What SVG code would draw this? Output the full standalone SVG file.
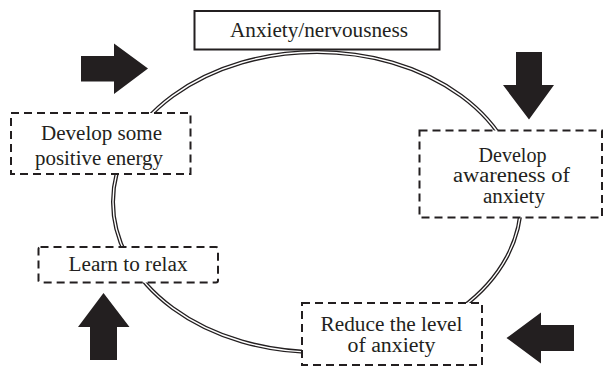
<svg xmlns="http://www.w3.org/2000/svg" width="604" height="367" viewBox="0 0 604 367">
  <style>
    .lbl { font-size: 20px; fill: #231f20; text-anchor: middle; }
    .dash { fill: #ffffff; stroke: #231f20; stroke-width: 2; stroke-dasharray: 8 5; }
    .solid { fill: #ffffff; stroke: #231f20; stroke-width: 2; }
    .arrow { fill: #231f20; }
  </style>
  <rect width="604" height="367" fill="#ffffff"/>

  <!-- cycle: double-lined ellipse -->
  <g id="connectors">
    <ellipse cx="317" cy="202" rx="204" ry="150" fill="none" stroke="#231f20" stroke-width="4"/>
    <ellipse cx="317" cy="202" rx="204" ry="150" fill="none" stroke="#ffffff" stroke-width="1.4"/>
  </g>

  <!-- block arrows -->
  <g id="arrows">
    <polygon class="arrow" points="81,56 114,56 114,43.5 148,68.5 114,94 114,81.5 81,81.5"/>
    <polygon class="arrow" points="516,52 542,52 542,85 554,85 529,119.5 503,85 516,85"/>
    <polygon class="arrow" points="103.5,293 129.5,327 117,327 117,360 90,360 90,327 78,327"/>
    <polygon class="arrow" points="506.5,338 541,312.5 541,325 574,325 574,351 541,351 541,363.5"/>
  </g>

  <g font-family="Liberation Serif, Times New Roman, DejaVu Serif, serif">
    <g id="anxiety">
      <rect class="solid" x="194.5" y="11" width="245" height="38.5"/>
      <text class="lbl" x="319" y="36.5" textLength="178" lengthAdjust="spacingAndGlyphs">Anxiety/nervousness</text>
    </g>

    <g id="awareness">
      <rect class="dash" x="419.5" y="130.5" width="182.5" height="87"/>
      <text class="lbl" x="512.5" y="161.5" textLength="68" lengthAdjust="spacingAndGlyphs">Develop</text>
      <text class="lbl" x="511.5" y="182" textLength="117" lengthAdjust="spacingAndGlyphs">awareness of</text>
      <text class="lbl" x="514" y="202.5" textLength="62" lengthAdjust="spacingAndGlyphs">anxiety</text>
    </g>

    <g id="reduce">
      <rect class="dash" x="302" y="303" width="180" height="62"/>
      <text class="lbl" x="391.5" y="331" textLength="142" lengthAdjust="spacingAndGlyphs">Reduce the level</text>
      <text class="lbl" x="391.5" y="352" textLength="88" lengthAdjust="spacingAndGlyphs">of anxiety</text>
    </g>

    <g id="relax">
      <rect class="dash" x="38.5" y="247" width="179.5" height="35.5" rx="2"/>
      <text class="lbl" x="128" y="271" textLength="119" lengthAdjust="spacingAndGlyphs">Learn to relax</text>
    </g>

    <g id="energy">
      <rect class="dash" x="11" y="113" width="179.5" height="61"/>
      <text class="lbl" x="101.5" y="140" textLength="121" lengthAdjust="spacingAndGlyphs">Develop some</text>
      <text class="lbl" x="99" y="165" textLength="128" lengthAdjust="spacingAndGlyphs">positive energy</text>
    </g>
  </g>
</svg>
